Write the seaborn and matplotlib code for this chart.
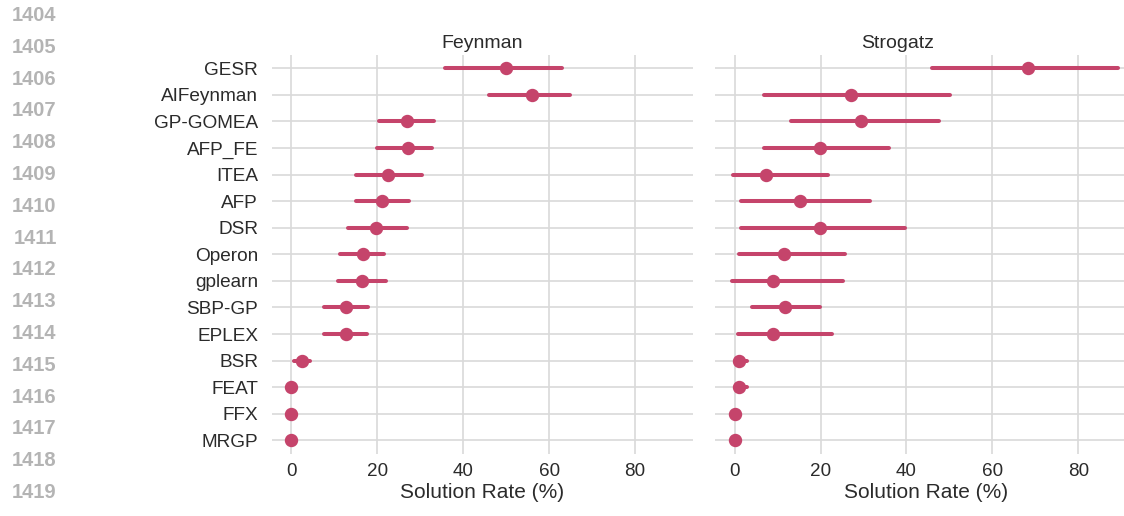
import matplotlib
matplotlib.use("Agg")
import matplotlib.pyplot as plt
import seaborn as sns
import pandas as pd

# methods, top to bottom
methods = ["GESR", "AIFeynman", "GP-GOMEA", "AFP_FE", "ITEA", "AFP", "DSR", "Operon",
           "gplearn", "SBP-GP", "EPLEX", "BSR", "FEAT", "FFX", "MRGP"]

# solution rate (%) and interval ends
feynman_mid = [49.9, 56.0, 26.9, 27.1, 22.4, 21.2, 19.6, 16.6, 16.4, 12.8, 12.7, 2.4, 0.0, 0.0, 0.0]
feynman_lo = [35.8, 46.1, 20.3, 20.0, 15.1, 15.1, 13.1, 11.3, 10.9, 7.7, 7.7, 0.7, 0.0, 0.0, 0.0]
feynman_hi = [63.1, 64.9, 33.3, 32.7, 30.4, 27.5, 26.9, 21.6, 22.0, 17.8, 17.6, 4.4, 0.0, 0.0, 0.0]

strogatz_mid = [68.4, 27.1, 29.5, 19.9, 7.2, 15.3, 19.8, 11.6, 8.9, 11.7, 8.9, 1.0, 1.0, 0.0, 0.0]
strogatz_lo = [45.9, 6.8, 13.1, 6.8, -0.3, 1.4, 1.4, 1.1, -0.5, 4.0, 0.7, 0.0, 0.0, 0.0, 0.0]
strogatz_hi = [89.2, 50.1, 47.5, 35.9, 21.7, 31.5, 39.6, 25.8, 25.3, 19.9, 22.7, 2.9, 2.9, 0.0, 0.0]

datasets = ["Feynman", "Strogatz"]
line_numbers = [str(n) for n in range(1404, 1420)]

color = "#c5446b"

# long table: three rows per method (low, mid, high) -> median + min/max interval
rows = []
for ds, lo, mid, hi in [("Feynman", feynman_lo, feynman_mid, feynman_hi),
                        ("Strogatz", strogatz_lo, strogatz_mid, strogatz_hi)]:
    for m, a, b, c in zip(methods, lo, mid, hi):
        for v in (a, b, c):
            rows.append({"dataset": ds, "method": m, "rate": v})
df = pd.DataFrame(rows)

sns.set_theme(style="whitegrid")
plt.rcParams["font.family"] = ["Liberation Sans", "DejaVu Sans"]
plt.rcParams["grid.color"] = "#d9d9d9"
plt.rcParams["grid.linewidth"] = 1.2
plt.rcParams["text.color"] = "#2b2b2b"
plt.rcParams["xtick.color"] = "#2b2b2b"
plt.rcParams["ytick.color"] = "#2b2b2b"

fig = plt.figure(figsize=(11.24, 5.16), dpi=100)
ax_w = 421 / 1124
ax_b = 1 - 453.6 / 516
ax_h = 398.6 / 516
ax1 = fig.add_axes([272 / 1124, ax_b, ax_w, ax_h])
ax2 = fig.add_axes([715.3 / 1124, ax_b, ax_w, ax_h])

for ax, ds in zip([ax1, ax2], datasets):
    sns.pointplot(data=df[df["dataset"] == ds], x="rate", y="method", order=methods,
                  estimator="median", errorbar=lambda v: (v.min(), v.max()),
                  color=color, linestyle="none", markersize=7.6,
                  err_kws={"linewidth": 2.9}, ax=ax)
    ax.set_xlim(-4.5, 93.5)
    ax.set_xticks([0, 20, 40, 60, 80])
    ax.set_xlabel("Solution Rate (%)", fontsize=15, labelpad=2, color="#2b2b2b")
    ax.set_ylabel("")
    ax.tick_params(axis="x", labelsize=13.6, length=0, pad=7)
    ax.tick_params(axis="y", labelsize=13.7, length=0, pad=10)
    ax.grid(True, axis="both")
    sns.despine(ax=ax, left=True, bottom=True)

ax1.set_title("Feynman", fontsize=14, pad=5)
ax2.set_title("Strogatz", fontsize=14, pad=5, x=0.434)
ax2.tick_params(axis="y", labelleft=False)

# line numbers from the source page
for i, t in enumerate(line_numbers):
    fig.text(56.7 / 1124, 1 - (15.5 + 31.8 * i) / 516, t, ha="right", va="center",
             fontsize=14.5, fontweight="bold", color="#b4b4b4")

fig.savefig("out.png", dpi=100)
